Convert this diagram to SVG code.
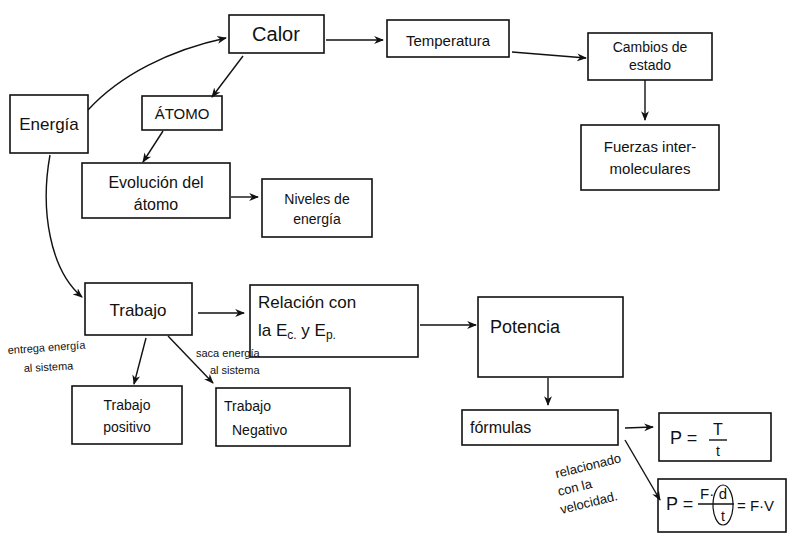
<svg xmlns="http://www.w3.org/2000/svg" width="788" height="541" viewBox="0 0 788 541">
<defs>
<marker id="ah" viewBox="0 0 10 10" refX="9" refY="5" markerWidth="7" markerHeight="7" orient="auto-start-reverse">
<path d="M0,1 L10,5 L0,9 L3,5 Z" fill="#111"/>
</marker>
</defs>
<style>
.box{fill:none;stroke:#111;stroke-width:1.6}
.con{fill:none;stroke:#111;stroke-width:1.4;marker-end:url(#ah)}
text{font-family:"Liberation Sans","DejaVu Sans",sans-serif;fill:#111}
.t{font-size:16px}
.l{font-size:11px}
</style>
<rect width="788" height="541" fill="#fff"/>

<g id="connectors">
<path class="con" d="M88,110 C120,75 170,50 226,38"/>
<path class="con" d="M326,40 L383,40"/>
<path class="con" d="M512,52 L586,58"/>
<path class="con" d="M645,80 L645,120"/>
<path class="con" d="M243,56 L212,97"/>
<path class="con" d="M163,131 L143,162"/>
<path class="con" d="M231,197 L258,197"/>
<path class="con" d="M50,155 C40,210 50,270 82,297"/>
<path class="con" d="M198,313 L244,313"/>
<path class="con" d="M420,325 L476,325"/>
<path class="con" d="M548,378 L548,405"/>
<path class="con" d="M625,428 L653,427"/>
<path class="con" d="M625,440 L660,500"/>
<path class="con" d="M146,338 L134,384"/>
<path class="con" d="M168,336 L213,383"/>
<text class="l" x="8" y="354" transform="rotate(-4 8 354)">entrega energía</text>
<text class="l" x="24" y="372" transform="rotate(-3 24 372)">al sistema</text>
<text class="l" x="196" y="357">saca energía</text>
<text class="l" x="210" y="374">al sistema</text>
<g transform="rotate(-14 560 500)">
<text x="562" y="478" font-size="13">relacionado</text>
<text x="560" y="496" font-size="13">con la</text>
<text x="558" y="514" font-size="13">velocidad.</text>
</g>
</g>

<g id="energia">
<rect class="box" x="10" y="95" width="78" height="58"/>
<text x="49" y="130" text-anchor="middle" font-size="17">Energía</text>
</g>
<g id="calor">
<rect class="box" x="229" y="15" width="95" height="38"/>
<text x="276" y="41" text-anchor="middle" font-size="20">Calor</text>
</g>
<g id="temperatura">
<rect class="box" x="387" y="20" width="122" height="37"/>
<text x="448" y="46" text-anchor="middle" font-size="15">Temperatura</text>
</g>
<g id="cambios">
<rect class="box" x="588" y="33" width="124" height="47"/>
<text x="650" y="52" text-anchor="middle" font-size="14">Cambios de</text>
<text x="650" y="70" text-anchor="middle" font-size="14">estado</text>
</g>
<g id="fuerzas">
<rect class="box" x="581" y="125" width="138" height="65"/>
<text x="650" y="152" text-anchor="middle" font-size="15">Fuerzas inter-</text>
<text x="650" y="174" text-anchor="middle" font-size="15">moleculares</text>
</g>
<g id="atomo">
<rect class="box" x="142" y="96" width="80" height="34"/>
<text x="182" y="119" text-anchor="middle" font-size="15">ÁTOMO</text>
</g>
<g id="evolucion">
<rect class="box" x="82" y="163" width="148" height="55"/>
<text x="156" y="188" text-anchor="middle" class="t">Evolución del</text>
<text x="156" y="210" text-anchor="middle" class="t">átomo</text>
</g>
<g id="niveles">
<rect class="box" x="262" y="179" width="110" height="58"/>
<text x="317" y="204" text-anchor="middle" font-size="14">Niveles de</text>
<text x="317" y="224" text-anchor="middle" font-size="14">energía</text>
</g>
<g id="trabajo">
<rect class="box" x="85" y="283" width="107" height="52"/>
<text x="138" y="316" text-anchor="middle" font-size="17">Trabajo</text>
</g>
<g id="relacion">
<rect class="box" x="250" y="285" width="168" height="72"/>
<text x="258" y="308" font-size="17">Relación con</text>
<text x="258" y="336" font-size="17">la E<tspan font-size="12" dy="3">c.</tspan><tspan dy="-3"> y E</tspan><tspan font-size="12" dy="3">p.</tspan></text>
</g>
<g id="potencia">
<rect class="box" x="478" y="297" width="145" height="80"/>
<text x="490" y="333" font-size="18">Potencia</text>
</g>
<g id="formulas">
<rect class="box" x="462" y="410" width="156" height="35"/>
<text x="470" y="433" class="t">fórmulas</text>
</g>
<g id="positivo">
<rect class="box" x="72" y="386" width="110" height="58"/>
<text x="127" y="410" text-anchor="middle" font-size="14">Trabajo</text>
<text x="127" y="432" text-anchor="middle" font-size="14">positivo</text>
</g>
<g id="negativo">
<rect class="box" x="216" y="388" width="134" height="58"/>
<text x="224" y="411" font-size="14">Trabajo</text>
<text x="232" y="435" font-size="14">Negativo</text>
</g>
<g id="p1">
<rect class="box" x="659" y="413" width="112" height="48"/>
<text x="670" y="444" font-size="18">P =</text>
<text x="718" y="435" text-anchor="middle" font-size="16">T</text>
<line x1="709" y1="440" x2="727" y2="440" stroke="#111" stroke-width="1.4"/>
<text x="718" y="456" text-anchor="middle" font-size="14">t</text>
</g>
<g id="p2">
<rect class="box" x="658" y="479" width="128" height="53"/>
<text x="666" y="510" font-size="18">P =</text>
<text x="700" y="499" font-size="15">F·</text>
<text x="723" y="499" text-anchor="middle" font-size="15">d</text>
<line x1="698" y1="504" x2="734" y2="504" stroke="#111" stroke-width="1.4"/>
<text x="723" y="521" text-anchor="middle" font-size="14">t</text>
<ellipse cx="723" cy="505" rx="10" ry="20" fill="none" stroke="#111" stroke-width="1.2"/>
<text x="737" y="511" font-size="15">= F·V</text>
</g>
</svg>
